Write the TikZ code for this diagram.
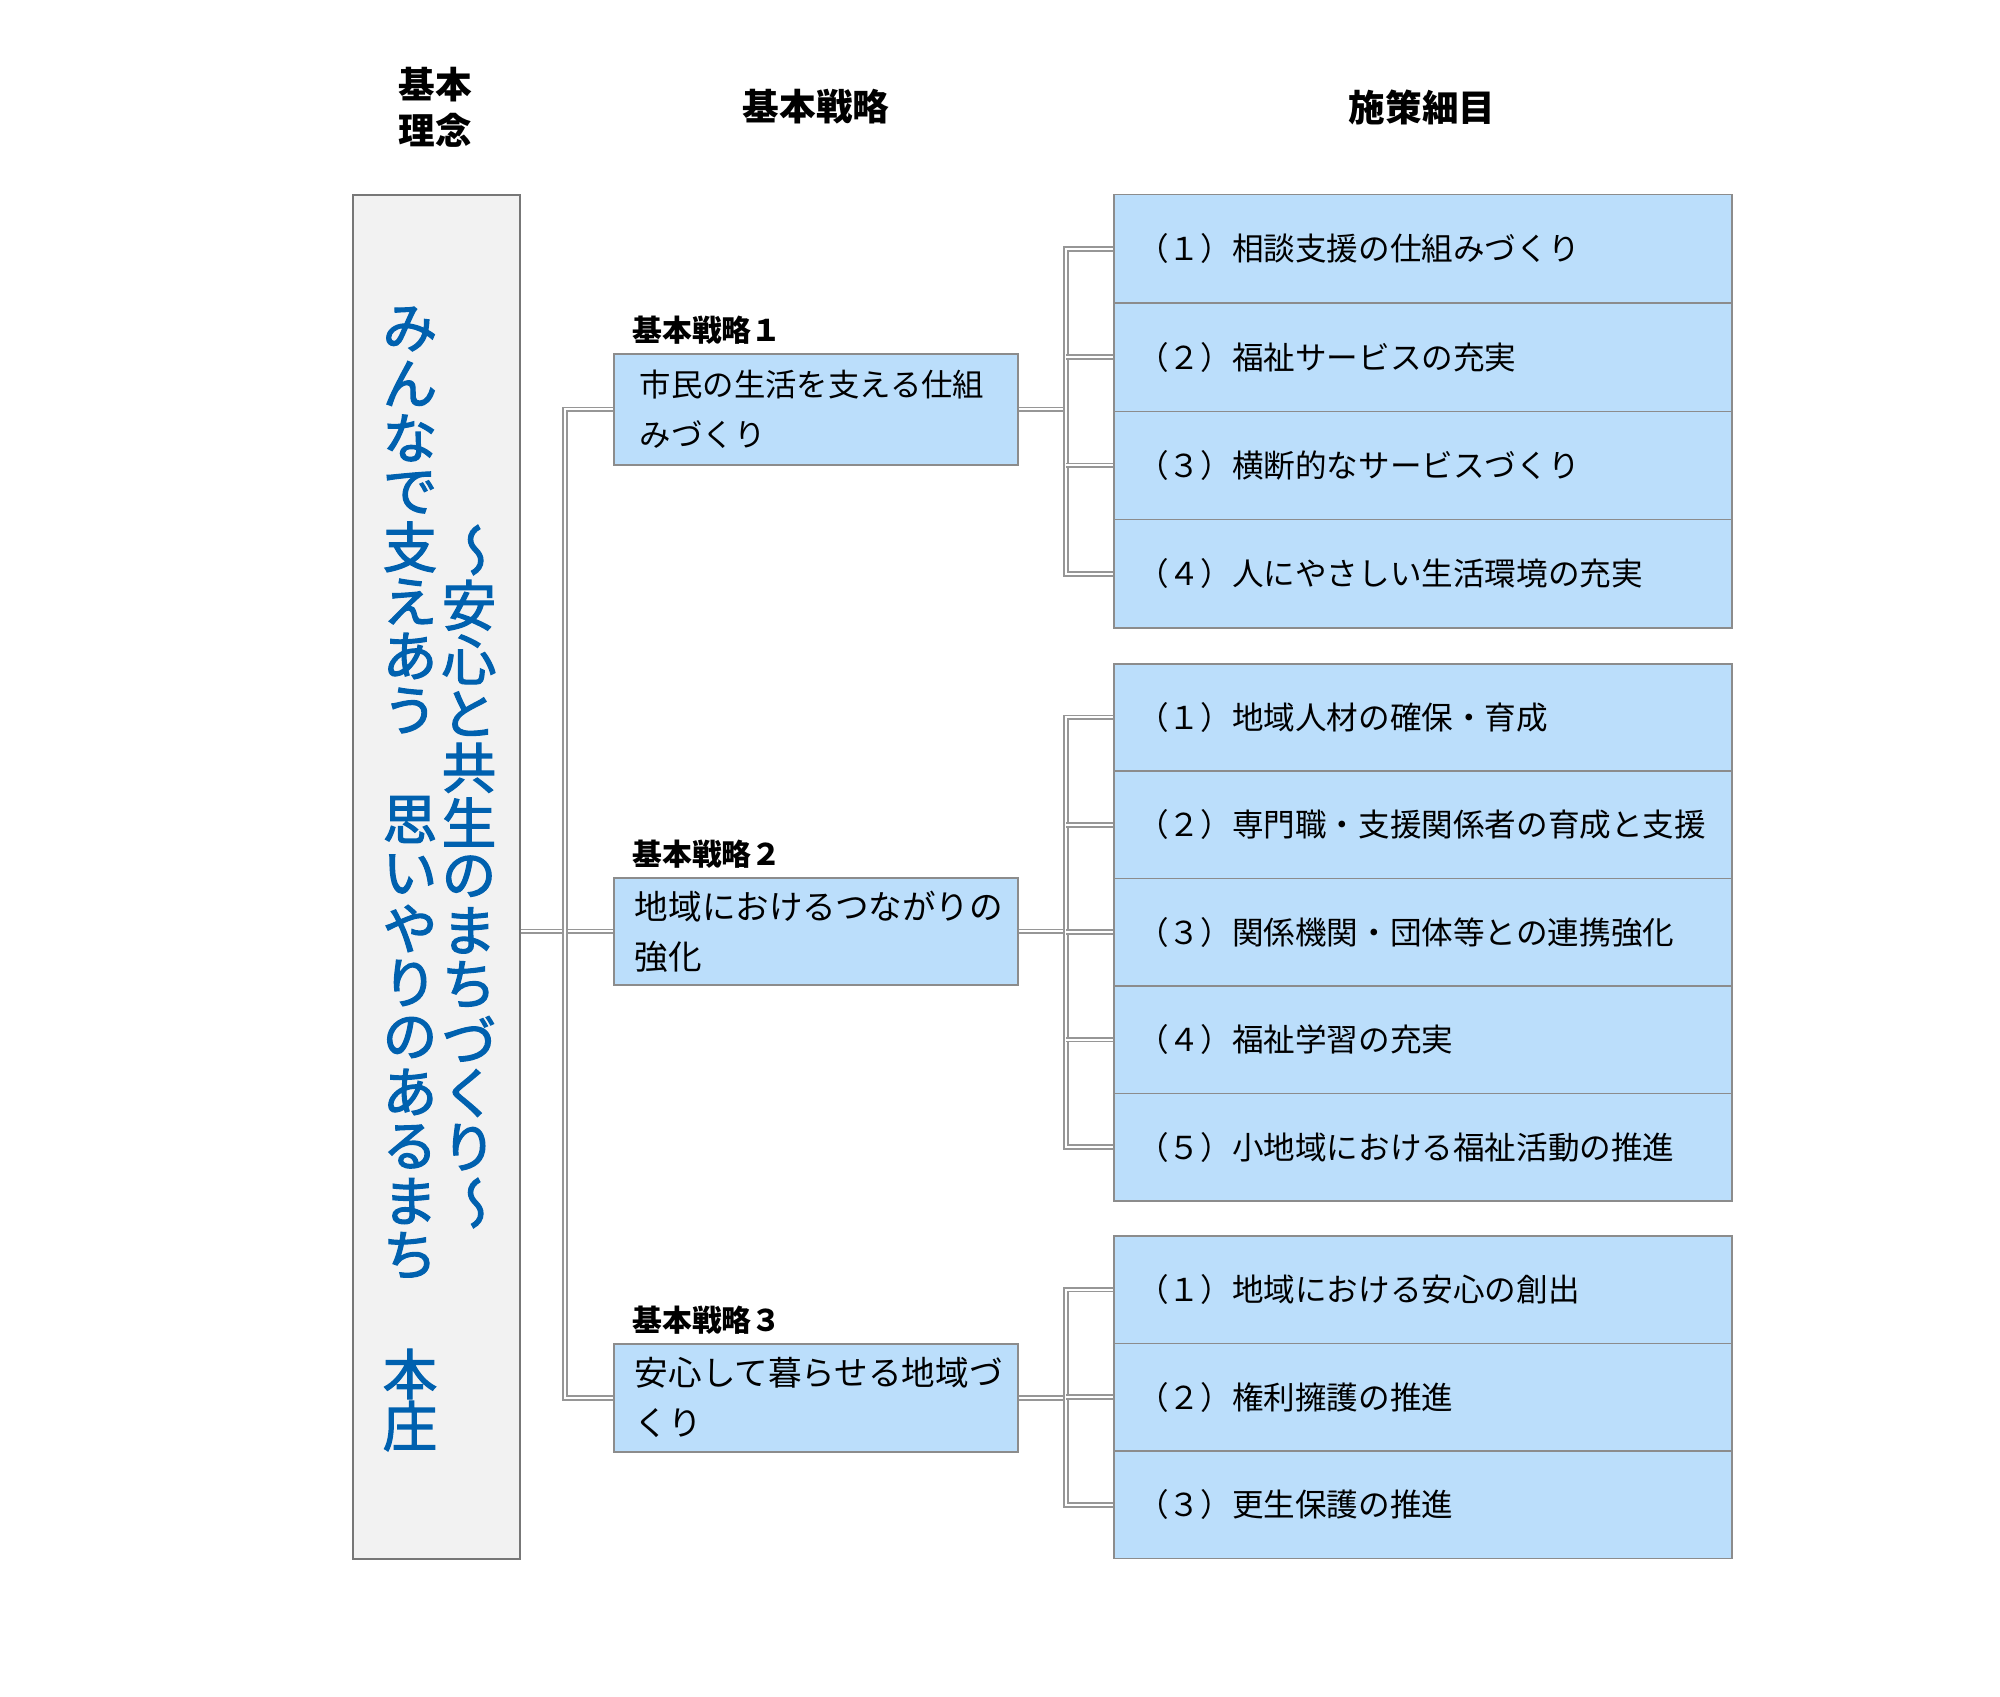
\documentclass[tikz,border=0pt]{standalone}
\usepackage{fontspec}
\setmainfont{Noto Sans CJK JP}
\newfontfamily\vfont{Noto Sans CJK JP}[FakeBold=2.2]
\usetikzlibrary{positioning}
\definecolor{boxblue}{RGB}{187,222,251}
\definecolor{boxline}{RGB}{140,140,140}
\definecolor{idealfill}{RGB}{242,242,242}
\definecolor{idealtext}{RGB}{0,97,175}
\definecolor{connline}{RGB}{150,150,150}
\tikzset{
  conn/.style={draw=connline, line width=0.9pt, double=white, double distance=1pt},
  idealbox/.style={draw=boxline!85!black, fill=idealfill, line width=1pt, anchor=north west,
    minimum width=83.5pt, minimum height=682pt, inner sep=0pt},
  vchar/.style={text=idealtext, inner sep=0pt, font=\vfont\fontsize{27.25}{27.25}\selectfont},
  head/.style={align=center, inner sep=0pt, font=\bfseries\fontsize{18.3}{23}\selectfont},
  slabel/.style={inner sep=0pt, font=\bfseries\fontsize{14.9}{18}\selectfont},
  stratbox/.style={draw=boxline, fill=boxblue, line width=0.8pt, anchor=north west,
    minimum width=202pt, inner xsep=10.5pt, text width=181pt, align=left,
    font=\fontsize{16.8}{25}\selectfont},
  itembox/.style={draw=boxline, fill=boxblue, line width=0.75pt, anchor=north west,
    minimum width=309pt, inner xsep=11.8pt, text width=285.4pt, align=left,
    font=\fontsize{15.8}{18}\selectfont}
}
\begin{document}
\begin{tikzpicture}[x=0.5pt, y=-0.5pt]
    \useasboundingbox (0,0) rectangle (2000,1696);

    \node[head] (hIdeal) at (435,107) {基本\\理念};
    \node[head] (hStrat) at (816,107) {基本戦略};
    \node[head] (hMeas) at (1422,107) {施策細目};

    \node[idealbox] (ideal) at (352,194) {};
    \foreach \ch [count=\i from 0] in {み,ん,な,で,支,え,あ,う}
        \node[vchar] (vL\i) at (410,329+54.5*\i) {\ch};
    \foreach \ch [count=\i from 9] in {思,い,や,り,の,あ,る,ま,ち}
        \node[vchar] (vL\i) at (410,329+54.5*\i) {\ch};
    \node[vchar] (vHon) at (410,1374) {本};
    \node[vchar] (vJo) at (410,1426) {庄};
    \node[vchar] (vR0) at (469,550) {\reflectbox{\rotatebox{90}{～}}};
    \foreach \ch [count=\i from 1] in {安,心,と,共,生,の,ま,ち,づ,く,り}
        \node[vchar] (vR\i) at (469,551+54.2*\i) {\ch};
    \node[vchar] (vR12) at (469,1203) {\reflectbox{\rotatebox{90}{～}}};

    \node[stratbox, minimum height=55.5pt, inner xsep=13pt, text width=176pt,
        font=\fontsize{15.7}{25}\selectfont] (s1) at (613,353) {市民の生活を支える仕組\\みづくり};
    \node[stratbox, minimum height=53.5pt] (s2) at (613,877) {地域におけるつながりの\\強化};
    \node[stratbox, minimum height=54pt] (s3) at (613,1343) {安心して暮らせる地域づ\\くり};
    \node[slabel, above right=4pt and 9.5pt of s1.north west] (l1) {基本戦略１};
    \node[slabel, above right=4pt and 9.5pt of s2.north west] (l2) {基本戦略２};
    \node[slabel, above right=4pt and 9.5pt of s3.north west] (l3) {基本戦略３};

    \node[itembox, minimum height=54.15pt] (a1) at (1113,194) {（１）相談支援の仕組みづくり};
    \node[itembox, minimum height=54.15pt] (a2) at (1113,302.3) {（２）福祉サービスの充実};
    \node[itembox, minimum height=54.15pt] (a3) at (1113,410.5) {（３）横断的なサービスづくり};
    \node[itembox, minimum height=54.15pt] (a4) at (1113,518.8) {（４）人にやさしい生活環境の充実};

    \node[itembox, minimum height=53.7pt] (b1) at (1113,663) {（１）地域人材の確保・育成};
    \node[itembox, minimum height=53.7pt] (b2) at (1113,770.4) {（２）専門職・支援関係者の育成と支援};
    \node[itembox, minimum height=53.7pt] (b3) at (1113,877.8) {（３）関係機関・団体等との連携強化};
    \node[itembox, minimum height=53.7pt] (b4) at (1113,985.2) {（４）福祉学習の充実};
    \node[itembox, minimum height=53.7pt] (b5) at (1113,1092.6) {（５）小地域における福祉活動の推進};

    \node[itembox, minimum height=53.83pt] (c1) at (1113,1235) {（１）地域における安心の創出};
    \node[itembox, minimum height=53.83pt] (c2) at (1113,1342.7) {（２）権利擁護の推進};
    \node[itembox, minimum height=53.83pt] (c3) at (1113,1450.3) {（３）更生保護の推進};

    \coordinate (tL) at (565,0);
    \coordinate (tR) at (1066,0);

    \draw[conn] (ideal.east |- s2.west) -- (s2.west);
    \draw[conn] (s1.west) -- (s1.west -| tL) -- (s3.west -| tL) -- (s3.west);

    \draw[conn] (s1.east) -- (s1.east -| tR);
    \draw[conn] (a1.west) -- (a1.west -| tR) -- (a4.west -| tR) -- (a4.west);
    \draw[conn] (a2.west) -- (a2.west -| tR);
    \draw[conn] (a3.west) -- (a3.west -| tR);

    \draw[conn] (s2.east) -- (s2.east -| tR);
    \draw[conn] (b1.west) -- (b1.west -| tR) -- (b5.west -| tR) -- (b5.west);
    \draw[conn] (b2.west) -- (b2.west -| tR);
    \draw[conn] (b3.west) -- (b3.west -| tR);
    \draw[conn] (b4.west) -- (b4.west -| tR);

    \draw[conn] (s3.east) -- (s3.east -| tR);
    \draw[conn] (c1.west) -- (c1.west -| tR) -- (c3.west -| tR) -- (c3.west);
    \draw[conn] (c2.west) -- (c2.west -| tR);
\end{tikzpicture}
\end{document}
